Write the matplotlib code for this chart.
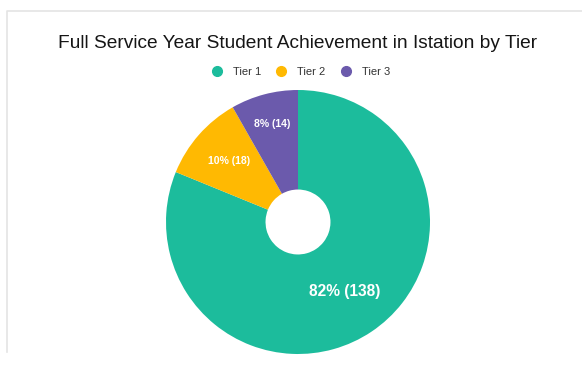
import numpy as np
import matplotlib
matplotlib.use("Agg")
import matplotlib.pyplot as plt
from matplotlib.lines import Line2D

plt.rcParams['font.family'] = ['Liberation Sans', 'DejaVu Sans']

tiers = ["Tier 1", "Tier 2", "Tier 3"]
students = [138, 18, 14]
shown_pct = [82, 10, 8]
colors = ["#1cbc9c", "#ffb902", "#6b5aac"]

W, H = 582, 366
fig = plt.figure(figsize=(W / 100, H / 100), dpi=100)
fig.patch.set_facecolor("white")

# card outline
border = fig.add_axes([0, 0, 1, 1], zorder=0)
border.set_xlim(0, W)
border.set_ylim(H, 0)
border.axis("off")
border.plot([7, 7, W], [352, 11, 11], color="#e4e4e4", lw=1.2)

# donut
cx, cy, r = 298, 222, 132
ax = fig.add_axes([(cx - r) / W, (H - cy - r) / H, 2 * r / W, 2 * r / H], zorder=1)
hole = 0.246
wedges, _ = ax.pie(students, colors=colors, startangle=90, counterclock=False,
                   radius=1, wedgeprops=dict(width=1 - hole, linewidth=0))
ax.set_xlim(-1, 1)
ax.set_ylim(-1, 1)
ax.set_aspect("auto")
ax.axis("off")

label_dist = [0.63, 0.70, 0.77]
label_size = [11.2, 7.6, 7.6]
for w, n, p, d, s in zip(wedges, students, shown_pct, label_dist, label_size):
    mid = np.deg2rad((w.theta1 + w.theta2) / 2)
    ax.text(d * np.cos(mid), d * np.sin(mid), f"{p}% ({n})", ha="center", va="center",
            color="white", fontsize=s, fontweight="bold")

fig.text(298 / W, 1 - 43 / H, "Full Service Year Student Achievement in Istation by Tier",
         ha="center", va="center", fontsize=13.8, color="#151515")

handles = [Line2D([], [], marker="o", linestyle="", markersize=7, markerfacecolor=c,
                  markeredgecolor=c) for c in colors]
fig.legend(handles, tiers, loc="center", bbox_to_anchor=(298 / W, 1 - 72 / H), ncol=3,
           frameon=False, fontsize=8, handletextpad=0.45, columnspacing=0.8,
           labelcolor="#333333")

fig.savefig("out.png", dpi=100, facecolor="white")
